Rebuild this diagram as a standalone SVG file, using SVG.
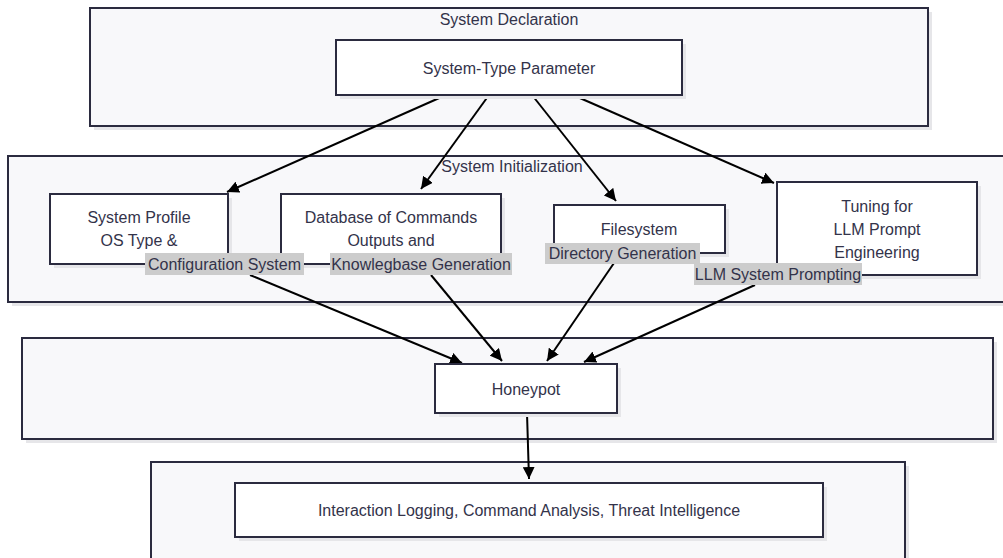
<svg xmlns="http://www.w3.org/2000/svg" width="1003" height="558" viewBox="0 0 1003 558">
<style>
.cl{fill:#f8f8fa;stroke:#2b2b3f;stroke-width:2}
.sh{fill:#e6e6e9}
.nd{fill:#ffffff;stroke:#2b2b3f;stroke-width:2}
.t{font-family:"Liberation Sans",Arial,sans-serif;font-size:16px;fill:#33334a;text-anchor:middle;dominant-baseline:central}
.lb{fill:#cccccc}
.e{fill:none;stroke:#000;stroke-width:2;marker-end:url(#arr)}
</style>
<defs>
<marker id="arr" viewBox="0 0 10 10" refX="10" refY="5" markerWidth="12" markerHeight="12" markerUnits="userSpaceOnUse" orient="auto">
<path d="M0,0 L10,5 L0,10 z" fill="#000"/>
</marker>
</defs>

<g id="cluster-declaration">
<rect class="sh" x="94" y="12" width="838" height="118"/>
<rect class="cl" x="90" y="8" width="838" height="118"/>
<text class="t" x="509" y="19">System Declaration</text>
</g>
<g id="cluster-initialization">
<rect class="sh" x="12" y="160" width="1000" height="146"/>
<rect class="cl" x="8" y="156" width="1000" height="146"/>
<text class="t" x="512" y="166">System Initialization</text>
</g>
<g id="cluster-honeypot">
<rect class="sh" x="26" y="342" width="971" height="101"/>
<rect class="cl" x="22" y="338" width="971" height="101"/>
</g>
<g id="cluster-analysis">
<rect class="sh" x="155" y="466" width="754" height="110"/>
<rect class="cl" x="151" y="462" width="754" height="110"/>
</g>

<g id="connectors">
<line class="e" x1="446" y1="95" x2="227" y2="192"/>
<line class="e" x1="489" y1="95" x2="421" y2="189"/>
<line class="e" x1="532" y1="95" x2="616" y2="201"/>
<line class="e" x1="573" y1="95" x2="774" y2="183"/>
<line class="e" x1="250" y1="275" x2="462" y2="363"/>
<line class="e" x1="431" y1="275" x2="502" y2="361"/>
<line class="e" x1="614" y1="263" x2="547" y2="361"/>
<line class="e" x1="755" y1="285" x2="584" y2="362"/>
<line class="e" x1="527" y1="413" x2="529" y2="479"/>
</g>

<g id="node-system-type">
<rect class="sh" x="340" y="44" width="346" height="55"/>
<rect class="nd" x="336" y="40" width="346" height="55"/>
<text class="t" x="509" y="68">System-Type Parameter</text>
</g>

<g id="node-database">
<rect class="sh" x="285" y="198" width="220" height="70"/>
<rect class="nd" x="281" y="194" width="220" height="70"/>
<text class="t" x="391" y="217">Database of Commands</text>
<text class="t" x="391" y="240">Outputs and</text>
<rect class="lb" x="330" y="253" width="182" height="22"/>
<text class="t" x="421" y="264">Knowlegbase Generation</text>
</g>

<g id="node-system-profile">
<rect class="sh" x="54" y="198" width="178" height="70"/>
<rect class="nd" x="50" y="194" width="178" height="70"/>
<text class="t" x="139" y="217">System Profile</text>
<text class="t" x="139" y="240">OS Type &amp;</text>
<rect class="lb" x="145" y="253" width="159" height="22"/>
<text class="t" x="224.5" y="264">Configuration System</text>
</g>

<g id="node-filesystem">
<rect class="sh" x="558" y="209" width="171" height="48"/>
<rect class="nd" x="554" y="205" width="171" height="48"/>
<text class="t" x="639" y="229">Filesystem</text>
<rect class="lb" x="545" y="243" width="155" height="21"/>
<text class="t" x="622.5" y="253.5">Directory Generation</text>
</g>

<g id="node-tuning">
<rect class="sh" x="781" y="186" width="200" height="93"/>
<rect class="nd" x="777" y="182" width="200" height="93"/>
<text class="t" x="877" y="206">Tuning for</text>
<text class="t" x="877" y="229">LLM Prompt</text>
<text class="t" x="877" y="252">Engineering</text>
<rect class="lb" x="694" y="263" width="168" height="22"/>
<text class="t" x="778" y="274">LLM System Prompting</text>
</g>

<g id="node-honeypot">
<rect class="sh" x="439" y="368" width="182" height="49"/>
<rect class="nd" x="435" y="364" width="182" height="49"/>
<text class="t" x="526" y="389">Honeypot</text>
</g>

<g id="node-analysis">
<rect class="sh" x="239" y="487" width="588" height="54"/>
<rect class="nd" x="235" y="483" width="588" height="54"/>
<text class="t" x="529" y="510">Interaction Logging, Command Analysis, Threat Intelligence</text>
</g>
</svg>
